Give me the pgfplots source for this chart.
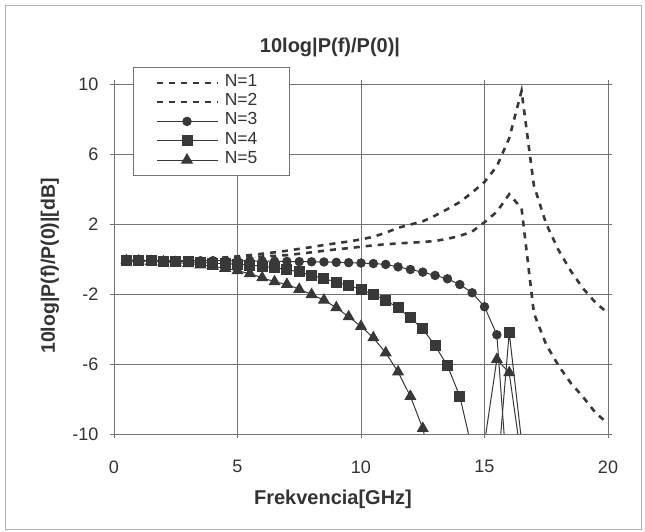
\documentclass[border=0pt]{standalone}
\usepackage{fontspec}
\setmainfont{Liberation Sans}
\usepackage{pgfplots}
\pgfplotsset{compat=1.18}
\definecolor{ln}{gray}{0.22}
\definecolor{gr}{gray}{0.45}
\definecolor{tx}{gray}{0.2}
\begin{document}
\begin{tikzpicture}
\useasboundingbox (-114pt,-98pt) rectangle (531pt,434pt);
\fill[white] (-114pt,-98pt) rectangle (531pt,434pt);
\draw[gray!60, line width=0.8pt] (-109pt,-95pt) rectangle (527pt,429pt);
\begin{axis}[
  at={(0pt,0pt)}, anchor=south west,
  scale only axis, width=494pt, height=350pt,
  xmin=0, xmax=20, ymin=-10, ymax=10,
  xtick={0,5,10,15,20}, ytick={-10,-6,-2,2,6,10},
  grid=major, major grid style={gr, line width=0.7pt},
  axis line style={gr, line width=0.9pt},
  tick style={gr, line width=0.8pt}, tick align=center, major tick length=8pt,
  tick label style={font=\fontsize{18}{18}\selectfont, text=tx},
  /pgf/number format/assume math mode=true,
  xticklabel style={yshift=-19pt},
  yticklabel style={xshift=-8pt},
  clip marker paths=true,
  legend cell align=left,
  legend style={at={(axis description cs:0.0385,1.0486)}, anchor=north west,
    draw=gr, fill=white, inner xsep=22pt, inner ysep=6pt,
    font=\fontsize{17.5}{19}\selectfont, text=tx, row sep=0pt,
    nodes={inner sep=0pt, text height=13pt, text depth=6.3pt},
    /tikz/every odd column/.style={column sep=6pt}},
  legend image code/.code={\draw[mark repeat=2,mark phase=2] plot coordinates {(0pt,0pt) (30.5pt,0pt) (61pt,0pt)};},
]
\addplot[ln, line width=2.6pt, dash pattern=on 6pt off 6pt] coordinates {
(0.5,-0.1)(1,-0.1)(1.5,-0.09)(2,-0.08)(2.5,-0.06)(3,-0.03)(3.5,0)(4,0.04)(4.5,0.09)(5,0.15)(5.5,0.22)(6,0.3)(6.5,0.38)(7,0.47)(7.5,0.58)(8,0.68)(8.5,0.8)(9,0.9)(9.5,1.0)(10,1.12)(10.5,1.27)(11,1.5)(11.5,1.78)(12,1.97)(12.5,2.15)(13,2.48)(13.5,2.85)(14,3.25)(14.5,3.8)(15,4.4)(15.5,5.3)(16,6.9)(16.5,9.6)(17,4.2)(17.5,2.0)(18,0.5)(18.5,-0.7)(19,-1.7)(19.5,-2.5)(20,-3.1)};
\addlegendentry{\makebox[42pt][l]{N=1}}
\addplot[ln, line width=2.6pt, dash pattern=on 6pt off 6pt] coordinates {
(0.5,-0.1)(1,-0.1)(1.5,-0.1)(2,-0.09)(2.5,-0.08)(3,-0.06)(3.5,-0.04)(4,-0.01)(4.5,0.02)(5,0.06)(5.5,0.1)(6,0.14)(6.5,0.18)(7,0.22)(7.5,0.3)(8,0.38)(8.5,0.47)(9,0.55)(9.5,0.62)(10,0.7)(10.5,0.78)(11,0.84)(11.5,0.89)(12,0.93)(12.5,0.97)(13,1.03)(13.5,1.15)(14,1.32)(14.5,1.57)(15,2.1)(15.5,2.7)(16,3.7)(16.5,2.9)(17,-3.1)(17.5,-4.9)(18,-6.1)(18.5,-7.1)(19,-7.9)(19.5,-8.8)(20,-9.4)};
\addlegendentry{N=2}
\addplot[ln, line width=1pt, mark=*, mark size=4.2pt, mark options={solid, fill=ln, draw=ln}] coordinates {
(0.5,-0.1)(1,-0.1)(1.5,-0.1)(2,-0.1)(2.5,-0.1)(3,-0.1)(3.5,-0.1)(4,-0.1)(4.5,-0.1)(5,-0.11)(5.5,-0.11)(6,-0.12)(6.5,-0.13)(7,-0.14)(7.5,-0.15)(8,-0.16)(8.5,-0.17)(9,-0.19)(9.5,-0.21)(10,-0.23)(10.5,-0.26)(11,-0.31)(11.5,-0.45)(12,-0.6)(12.5,-0.75)(13,-0.94)(13.5,-1.13)(14,-1.46)(14.5,-1.93)(15,-2.73)(15.5,-4.33)(16,-14)};
\addlegendentry{N=3}
\addplot[ln, line width=1pt, mark=square*, mark size=5pt, mark options={solid, fill=ln, draw=ln}] coordinates {
(0.5,-0.1)(1,-0.1)(1.5,-0.1)(2,-0.12)(2.5,-0.14)(3,-0.17)(3.5,-0.2)(4,-0.23)(4.5,-0.27)(5,-0.3)(5.5,-0.35)(6,-0.41)(6.5,-0.5)(7,-0.6)(7.5,-0.74)(8,-0.93)(8.5,-1.12)(9,-1.32)(9.5,-1.52)(10,-1.74)(10.5,-2.03)(11,-2.35)(11.5,-2.8)(12,-3.37)(12.5,-4.0)(13,-4.95)(13.5,-6.1)(14,-7.85)(14.5,-10.9)(15,-16)(15.5,-12.7)(16,-4.2)(16.5,-10.4)};
\addlegendentry{N=4}
\addplot[ln, line width=1pt, mark=triangle*, mark size=6pt, mark options={solid, fill=ln, draw=ln}] coordinates {
(0.5,-0.1)(1,-0.11)(1.5,-0.13)(2,-0.16)(2.5,-0.2)(3,-0.26)(3.5,-0.33)(4,-0.42)(4.5,-0.53)(5,-0.67)(5.5,-0.84)(6,-1.07)(6.5,-1.3)(7,-1.45)(7.5,-1.73)(8,-2.03)(8.5,-2.35)(9,-2.78)(9.5,-3.3)(10,-3.85)(10.5,-4.5)(11,-5.36)(11.5,-6.45)(12,-7.85)(12.5,-9.68)(13,-12.5)(13.5,-15)(14,-17)(14.5,-17)(15,-10.5)(15.5,-5.74)(16,-6.5)(16.5,-11.5)};
\addlegendentry{N=5}
\end{axis}
\node[font=\bfseries\fontsize{20}{20}\selectfont, text=tx] at (216pt,387pt) {10log|P(f)/P(0)|};
\node[font=\bfseries\fontsize{20}{20}\selectfont, text=tx] at (219pt,-65pt) {Frekvencia[GHz]};
\node[rotate=90, font=\bfseries\fontsize{19.5}{20}\selectfont, text=tx] at (-64pt,168pt) {10log|P(f)/P(0)|[dB]};
\end{tikzpicture}
\end{document}
